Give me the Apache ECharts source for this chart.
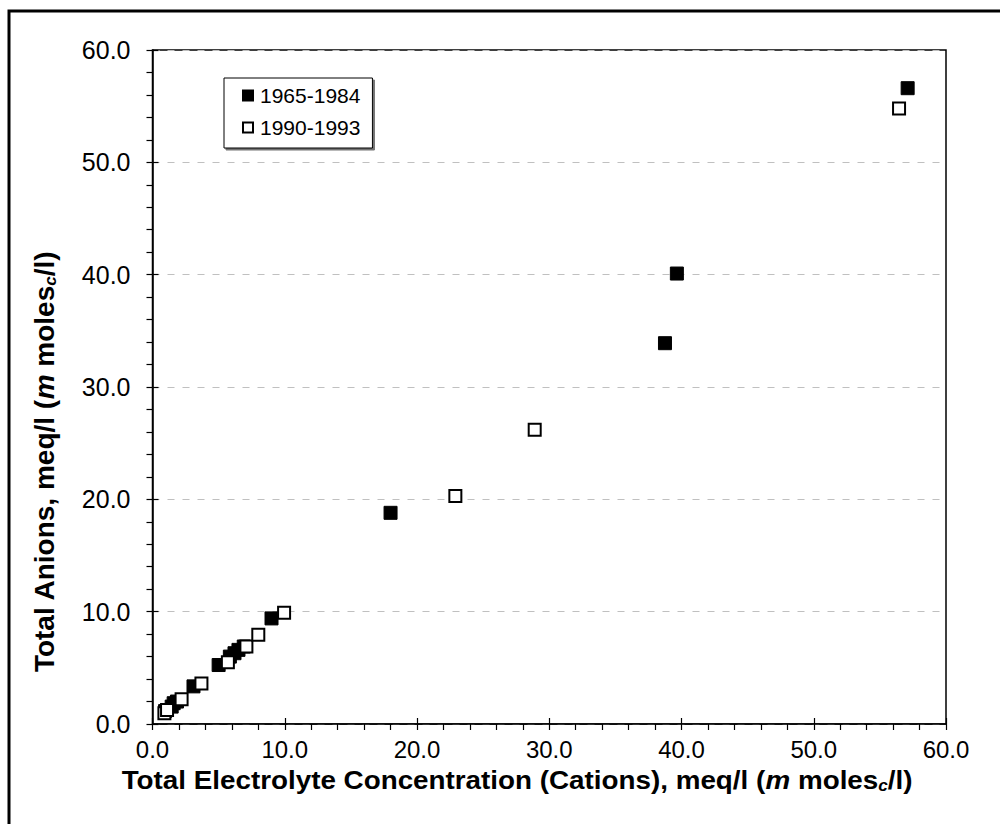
<!DOCTYPE html>
<html>
<head>
<meta charset="utf-8">
<script src="https://cdn.jsdelivr.net/npm/echarts@6/dist/echarts.min.js"></script>
<style>
html,body{margin:0;padding:0;background:#fff;}
#chart{width:1000px;height:824px;}
</style>
</head>
<body>
<div id="chart"></div>
<script>
// Data
const seriesNames = ['1965-1984', '1990-1993'];
const filled1965 = [
  [0.95, 1.15], [1.45, 1.55], [1.6, 1.85], [1.85, 2.0], [3.1, 3.35],
  [5.0, 5.25], [5.85, 6.0], [6.2, 6.3], [6.5, 6.6], [6.9, 6.9],
  [9.0, 9.4], [18.0, 18.8], [38.75, 33.9], [39.65, 40.1], [57.1, 56.6]
];
const open1990 = [
  [0.9, 0.95], [1.1, 1.25], [2.2, 2.2], [3.7, 3.6], [5.7, 5.5],
  [7.1, 6.9], [8.0, 7.95], [9.95, 9.9], [22.9, 20.3], [28.9, 26.2], [56.45, 54.8]
];
const xTicks = [0, 10, 20, 30, 40, 50, 60];
const yTicks = [0, 10, 20, 30, 40, 50, 60];
const xTitle = 'Total Electrolyte Concentration (Cations), meq/l ({i|m} moles{sub|c}/l)';
const yTitle = 'Total Anions, meq/l ({i|m} moles{sub|c}/l)';

const FONT = '"Liberation Sans", Arial, sans-serif';
const chart = echarts.init(document.getElementById('chart'), null, {renderer: 'svg'});

const axisMin = xTicks[0], axisMax = xTicks[xTicks.length - 1];
const yMin = yTicks[0], yMax = yTicks[yTicks.length - 1];
const fmt = v => v.toFixed(1);
function rich(size) {
  return {
    i: {fontFamily: FONT, fontSize: size, fontWeight: 'bold', fontStyle: 'italic', fill: '#000', color: '#000'},
    sub: {fontFamily: FONT, fontSize: Math.round(size * 0.62), fontWeight: 'bold', fontStyle: 'italic', fill: '#000', color: '#000', verticalAlign: 'bottom', padding: [Math.round(size * 0.43), 0, 0, 0]}
  };
}

const option = {
  animation: false,
  backgroundColor: '#fff',
  grid: {left: 152.5, top: 50, right: 54, bottom: 100, show: true, borderColor: '#000', borderWidth: 1.5, backgroundColor: 'transparent'},
  legend: {
    orient: 'vertical', left: 224, top: 78,
    data: seriesNames,
    icon: 'rect', itemWidth: 10, itemHeight: 10, itemGap: 11,
    padding: [7, 12, 10, 18],
    backgroundColor: '#fff', borderColor: '#000', borderWidth: 1,
    shadowColor: 'rgba(0,0,0,0.55)', shadowOffsetX: 2, shadowOffsetY: 2, shadowBlur: 0,
    textStyle: {fontFamily: FONT, fontSize: 21, color: '#000', padding: [2, 0, 0, 2]}
  },
  xAxis: [{
    type: 'value', min: axisMin, max: axisMax, interval: 10, gridIndex: 0,
    axisLine: {show: true, onZero: false, lineStyle: {color: '#000', width: 1.5}},
    axisTick: {show: true, length: 6, lineStyle: {color: '#000', width: 1.2}},
    minorTick: {show: true, splitNumber: 5, length: 6, lineStyle: {color: '#000', width: 1.2}},
    axisLabel: {formatter: fmt, fontFamily: FONT, fontSize: 24, color: '#000', margin: 13, lineHeight: 24},
    splitLine: {show: false}
  }, {
    type: 'value', min: axisMin, max: axisMax, interval: 10, gridIndex: 0, position: 'bottom',
    axisLine: {show: false},
    axisTick: {show: true, inside: true, length: 6, lineStyle: {color: '#000', width: 1.2}},
    axisLabel: {show: false}, splitLine: {show: false}
  }],
  yAxis: [{
    type: 'value', min: yMin, max: yMax, interval: 10, gridIndex: 0,
    axisLine: {show: true, onZero: false, lineStyle: {color: '#000', width: 1.5}},
    axisTick: {show: true, length: 6, lineStyle: {color: '#000', width: 1.2}},
    minorTick: {show: true, splitNumber: 5, length: 6, lineStyle: {color: '#000', width: 1.2}},
    axisLabel: {formatter: fmt, fontFamily: FONT, fontSize: 25, color: '#000', margin: 22},
    splitLine: {show: true, lineStyle: {color: '#c0c0c0', width: 1.2, type: [7, 8]}}
  }, {
    type: 'value', min: yMin, max: yMax, interval: 10, gridIndex: 0, position: 'left',
    axisLine: {show: false},
    axisTick: {show: true, inside: true, length: 6, lineStyle: {color: '#000', width: 1.2}},
    axisLabel: {show: false}, splitLine: {show: false}
  }],
  series: [{
    name: seriesNames[0], type: 'scatter', data: filled1965,
    symbol: 'rect', symbolSize: 13,
    itemStyle: {color: '#000', borderColor: '#000', borderWidth: 1, opacity: 1},
    z: 3
  }, {
    name: seriesNames[1], type: 'scatter', data: open1990,
    symbol: 'rect', symbolSize: 12,
    itemStyle: {color: '#fff', borderColor: '#000', borderWidth: 2, opacity: 1},
    z: 4
  }],
  graphic: [{
    type: 'rect', z: 100, silent: true,
    shape: {x: 9, y: 11, width: 1100, height: 1000},
    style: {fill: 'none', stroke: '#000', lineWidth: 3}
  }, {
    type: 'text', z: 100, x: 517, y: 780, scaleX: 1.07,
    style: {text: xTitle, rich: rich(26), fontFamily: FONT, fontSize: 26, fontWeight: 'bold', fill: '#000', align: 'center', verticalAlign: 'middle'}
  }, {
    type: 'text', z: 100, x: 44, y: 462, rotation: Math.PI / 2,
    style: {text: yTitle, rich: rich(28), fontFamily: FONT, fontSize: 28, fontWeight: 'bold', fill: '#000', align: 'center', verticalAlign: 'middle'}
  }]
};
chart.setOption(option);
</script>
</body>
</html>
